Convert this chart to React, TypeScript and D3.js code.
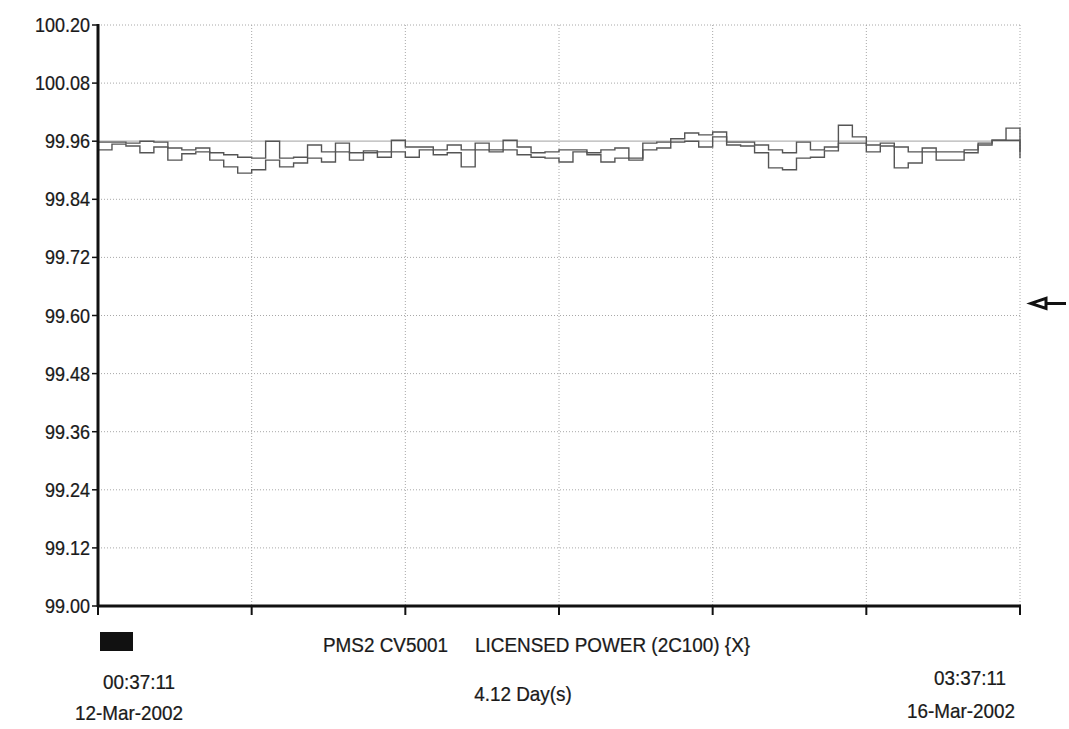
import React, { useEffect, useRef } from 'react';
import * as d3 from 'd3';

// hours since 00:37:11 12-Mar-2002, one sample every 1.5 h
const hours = [
  0, 1.5, 3, 4.5, 6, 7.5, 9, 10.5, 12, 13.5, 15, 16.5, 18, 19.5, 21, 22.5, 24,
  25.5, 27, 28.5, 30, 31.5, 33, 34.5, 36, 37.5, 39, 40.5, 42, 43.5, 45, 46.5,
  48, 49.5, 51, 52.5, 54, 55.5, 57, 58.5, 60, 61.5, 63, 64.5, 66, 67.5, 69,
  70.5, 72, 73.5, 75, 76.5, 78, 79.5, 81, 82.5, 84, 85.5, 87, 88.5, 90, 91.5,
  93, 94.5, 96, 97.5, 99,
];

const powerA = [
  99.958, 99.958, 99.956, 99.96, 99.958, 99.946, 99.942, 99.946, 99.936, 99.932,
  99.927, 99.925, 99.96, 99.925, 99.927, 99.952, 99.938, 99.956, 99.936, 99.936,
  99.938, 99.962, 99.948, 99.948, 99.942, 99.952, 99.942, 99.956, 99.942, 99.962,
  99.948, 99.936, 99.938, 99.942, 99.942, 99.936, 99.942, 99.946, 99.925, 99.956,
  99.958, 99.965, 99.977, 99.973, 99.979, 99.958, 99.958, 99.952, 99.942, 99.936,
  99.958, 99.942, 99.948, 99.993, 99.969, 99.952, 99.956, 99.948, 99.938, 99.946,
  99.938, 99.938, 99.942, 99.956, 99.962, 99.987, 99.938,
];

const powerB = [
  99.942, 99.954, 99.95, 99.936, 99.948, 99.921, 99.934, 99.938, 99.921, 99.907,
  99.894, 99.901, 99.921, 99.907, 99.915, 99.925, 99.917, 99.938, 99.921, 99.94,
  99.927, 99.938, 99.927, 99.942, 99.932, 99.936, 99.907, 99.942, 99.938, 99.942,
  99.932, 99.927, 99.925, 99.917, 99.938, 99.932, 99.917, 99.925, 99.921, 99.942,
  99.946, 99.958, 99.96, 99.948, 99.969, 99.952, 99.95, 99.936, 99.905, 99.901,
  99.925, 99.927, 99.94, 99.956, 99.956, 99.938, 99.95, 99.905, 99.915, 99.938,
  99.921, 99.921, 99.936, 99.952, 99.962, 99.962, 99.925,
];

const yTicks = [99.0, 99.12, 99.24, 99.36, 99.48, 99.6, 99.72, 99.84, 99.96, 100.08, 100.2];
const xTicks = [0, 16.5, 33, 49.5, 66, 82.5, 99];
const limitValue = 99.96;
const markerValue = 99.625;

export default function App() {
  const svgRef = useRef<SVGSVGElement>(null);

  useEffect(() => {
    const svg = d3.select(svgRef.current);
    svg.selectAll('*').remove();
    const font = '"Liberation Sans", Arial, sans-serif';
    const ink = '#1a1a1a';

    const x = d3.scaleLinear().domain([0, 99]).range([98, 1020]);
    const y = d3.scaleLinear().domain([99.0, 100.2]).range([606, 25]);

    // grid
    const grid = svg.append('g');
    grid
      .selectAll('.hgrid')
      .data(yTicks.filter((d) => d !== limitValue && d !== 99.0))
      .enter()
      .append('line')
      .attr('x1', x(0))
      .attr('x2', x(99))
      .attr('y1', (d) => y(d))
      .attr('y2', (d) => y(d))
      .attr('stroke', '#a8a8a8')
      .attr('stroke-dasharray', '1,2');
    grid
      .selectAll('.vgrid')
      .data(xTicks.slice(1))
      .enter()
      .append('line')
      .attr('x1', (d) => x(d))
      .attr('x2', (d) => x(d))
      .attr('y1', y(100.2))
      .attr('y2', y(99.0))
      .attr('stroke', '#a8a8a8')
      .attr('stroke-dasharray', '1,2');
    grid
      .append('line')
      .attr('x1', x(0))
      .attr('x2', x(99))
      .attr('y1', y(limitValue))
      .attr('y2', y(limitValue))
      .attr('stroke', '#b4b4b4')
      .attr('stroke-width', 1.2);

    // traces
    const line = d3
      .line<number>()
      .x((_, i) => x(hours[i]))
      .y((d) => y(d))
      .curve(d3.curveStepAfter);
    [powerA, powerB].forEach((s) => {
      svg
        .append('path')
        .attr('d', line(s))
        .attr('fill', 'none')
        .attr('stroke', '#555')
        .attr('stroke-width', 1.4);
    });

    // y axis
    const yAxis = svg.append('g');
    yAxis
      .append('line')
      .attr('x1', x(0))
      .attr('x2', x(0))
      .attr('y1', y(100.2) - 1)
      .attr('y2', y(99.0) + 1)
      .attr('stroke', '#111')
      .attr('stroke-width', 3);
    yAxis
      .selectAll('.ytick')
      .data(yTicks)
      .enter()
      .append('line')
      .attr('x1', x(0) - 6)
      .attr('x2', x(0))
      .attr('y1', (d) => y(d))
      .attr('y2', (d) => y(d))
      .attr('stroke', '#111')
      .attr('stroke-width', 1.5);

    // text with taller, slightly condensed glyphs like the scanned original
    const label = (t: string, lx: number, ly: number, anchor = 'start', size = 21) =>
      svg
        .append('text')
        .attr('transform', `translate(${lx},${ly}) scale(0.9,1)`)
        .attr('text-anchor', anchor)
        .attr('font-family', font)
        .attr('font-size', size)
        .attr('fill', ink)
        .attr('stroke', ink)
        .attr('stroke-width', 0.25)
        .text(t);

    yTicks.forEach((d) => label(d.toFixed(2), x(0) - 8, y(d) + 7, 'end', 20));

    // x axis
    const xAxis = svg.append('g');
    xAxis
      .append('line')
      .attr('x1', x(0))
      .attr('x2', x(99) + 1)
      .attr('y1', y(99.0))
      .attr('y2', y(99.0))
      .attr('stroke', '#111')
      .attr('stroke-width', 3);
    xAxis
      .selectAll('.xtick')
      .data(xTicks)
      .enter()
      .append('line')
      .attr('x1', (d) => x(d))
      .attr('x2', (d) => x(d))
      .attr('y1', y(99.0))
      .attr('y2', y(99.0) + 9)
      .attr('stroke', '#111')
      .attr('stroke-width', 2);

    svg.append('rect').attr('x', 100).attr('y', 632).attr('width', 33).attr('height', 19).attr('fill', '#111');
    label('PMS2 CV5001', 323, 652);
    label('LICENSED POWER (2C100) {X}', 475, 652);
    label('4.12 Day(s)', 523, 701, 'middle');
    label('00:37:11', 139, 689, 'middle');
    label('12-Mar-2002', 129, 720, 'middle');
    label('03:37:11', 970, 685, 'middle');
    label('16-Mar-2002', 961, 718, 'middle');

    // marker arrow on the right edge
    const my = y(markerValue);
    svg
      .append('path')
      .attr('d', `M1031,${my} L1046,${my - 5} L1046,${my + 5} Z M1046,${my} L1066,${my}`)
      .attr('fill', 'none')
      .attr('stroke', '#111')
      .attr('stroke-width', 3)
      .attr('stroke-linejoin', 'miter');
  }, []);

  return (
    <div style={{ position: 'absolute', left: 0, top: 0 }}>
      <svg ref={svgRef} width={1069} height={729} style={{ display: 'block', background: '#fff' }} />
    </div>
  );
}
